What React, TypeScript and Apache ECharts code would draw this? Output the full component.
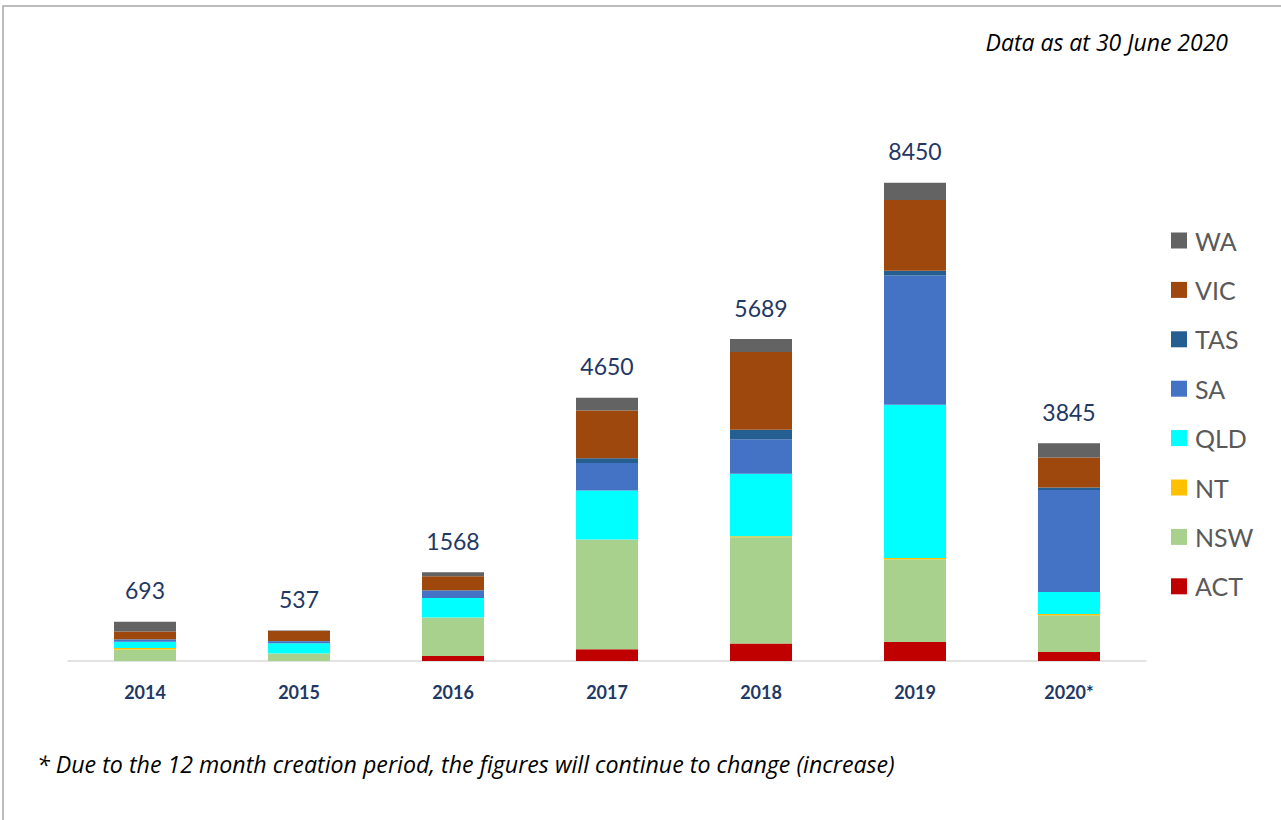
import React, { useEffect, useRef } from "react";
import * as echarts from "echarts";

const years = ["2014", "2015", "2016", "2017", "2018", "2019", "2020*"];
const totals = [693, 537, 1568, 4650, 5689, 8450, 3845];
const ACT = [0, 0, 89, 206, 307, 336, 159];
const NSW = [203, 130, 681, 1940, 1880, 1461, 650];
const NT = [28, 2, 0, 0, 18, 24, 20];
const QLD = [107, 183, 343, 865, 1102, 2705, 390];
const SA = [43, 35, 130, 487, 613, 2286, 1800];
const TAS = [5, 5, 5, 82, 165, 83, 47];
const VIC = [135, 176, 249, 847, 1374, 1249, 531];
const WA = [172, 6, 71, 223, 230, 306, 248];

const seriesNames = ["ACT", "NSW", "NT", "QLD", "SA", "TAS", "VIC", "WA"];
const seriesData = [ACT, NSW, NT, QLD, SA, TAS, VIC, WA];
const seriesColors = ["#C00000", "#A9D18E", "#FFC000", "#00FFFF", "#4472C4", "#255E91", "#9E480E", "#636363"];
const legendOrder = ["WA", "VIC", "TAS", "SA", "QLD", "NT", "NSW", "ACT"];

const noteTop = "Data as at 30 June 2020";
const noteBottom = "* Due to the 12 month creation period, the figures will continue to change (increase)";

export default function App() {
  const ref = useRef<HTMLDivElement>(null);
  useEffect(() => {
    if (!ref.current) return;
    const chart = echarts.init(ref.current, null, { renderer: "svg" });
    const font = "Lato, 'Open Sans', sans-serif";
    const noteFont = "'Open Sans', Lato, sans-serif";
    const series = seriesNames.map((name, i) => ({
      name,
      type: "bar",
      stack: "total",
      barWidth: 62,
      data: seriesData[i],
      itemStyle: { color: seriesColors[i] },
      label:
        name === "WA"
          ? {
              show: true,
              position: "top",
              distance: 20,
              color: "#1F3864",
              fontSize: 23,
              fontFamily: font,
              formatter: (p: any) => String(totals[p.dataIndex]),
            }
          : { show: false },
    }));
    chart.setOption({
      animation: false,
      backgroundColor: "#ffffff",
      grid: { left: 68, right: 135, top: 95, bottom: 159 },
      xAxis: {
        type: "category",
        data: years,
        axisLine: { lineStyle: { color: "#D9D9D9", width: 1.5 } },
        axisTick: { show: false },
        axisLabel: {
          color: "#1F3864",
          fontWeight: "bold",
          fontSize: 18,
          fontFamily: font,
          margin: 22,
        },
      },
      yAxis: {
        type: "value",
        min: 0,
        max: 10000,
        show: false,
        splitLine: { show: false },
      },
      legend: {
        orient: "vertical",
        left: 1166,
        top: 223,
        itemWidth: 16,
        itemHeight: 16,
        itemGap: 24.4,
        icon: "rect",
        data: legendOrder,
        textStyle: { color: "#595959", fontSize: 25, fontFamily: font, padding: [0, 0, 0, 3] },
      },
      graphic: [
        {
          type: "rect",
          shape: { x: 3, y: 6, width: 1400, height: 1000 },
          style: { fill: "none", stroke: "#A6A6A6", lineWidth: 1.5 },
          silent: true,
        },
        {
          type: "text",
          right: 53,
          top: 30,
          style: {
            text: noteTop,
            fill: "#000000",
            font: "italic 23px " + noteFont,
          },
        },
        {
          type: "text",
          left: 37,
          top: 752,
          style: {
            text: noteBottom,
            fill: "#000000",
            font: "italic 23.2px " + noteFont,
          },
        },
      ],
      series,
    });
    return () => chart.dispose();
  }, []);
  return (
    <div
      ref={ref}
      style={{ position: "fixed", left: 0, top: 0, width: 1281, height: 820 }}
    />
  );
}
